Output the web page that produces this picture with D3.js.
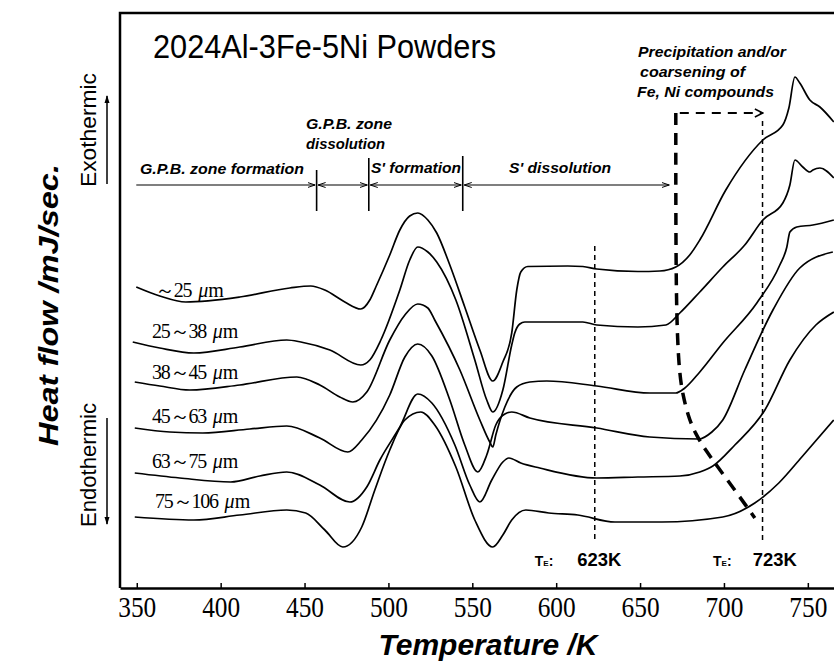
<!DOCTYPE html>
<html>
<head>
  <title>DSC curves 2024Al-3Fe-5Ni</title>
  <script src="https://d3js.org/d3.v7.min.js"></script>
  <style>
    body { margin: 0; background: #fff; }
  </style>
</head>
<body>
  <svg id="chart"></svg>

  <script>
    // particle size classes (top to bottom)
    const sizeLabels = ['～25', '25～38', '38～45', '45～63', '63～75', '75～106'];

    // DSC traces: [temperature K, heat flow (arbitrary, offset per trace)]
    const curve1 = [[349.7,30.1],[363.7,29.2],[379.2,28.6],[411.4,29.1],[441.2,30.0],[453.7,30.2],[462.1,29.8],[474.0,28.6],[483.5,27.9],[488.9,28.8],[492.5,30.1],[500.8,33.3],[506.8,35.8],[512.7,37.2],[517.5,37.5],[523.5,36.8],[528.8,35.5],[536.6,32.3],[545.5,28.1],[554.5,23.8],[562.2,20.7],[568.2,22.6],[573.5,25.5],[576.5,29.8],[578.9,31.6],[583.1,32.15],[606.9,32.2],[615.9,32.15],[624.2,31.9],[648.7,31.65],[661.8,31.7],[671.3,32.1],[679.6,33.3],[685.6,34.8],[701.1,39.8],[723.2,44.8],[735.1,46.3],[738.7,48.0],[742.3,51.1],[745.2,50.5],[751.2,48.8],[757.2,48.1],[765.5,46.6]];
    const curve2 = [[347.6,24.6],[363.7,24.0],[384.0,23.5],[411.4,24.1],[439.4,24.8],[447.8,24.6],[465.1,23.8],[483.5,22.3],[488.9,22.8],[495.5,24.8],[506.8,29.8],[512.7,32.8],[517.5,34.1],[523.5,33.6],[528.8,32.6],[540.2,28.8],[551.5,22.8],[558.6,18.8],[562.2,17.6],[568.2,19.8],[573.5,24.3],[575.3,25.5],[578.3,26.4],[581.3,26.6],[596.2,26.6],[615.9,26.6],[624.2,26.3],[648.7,26.1],[665.4,26.3],[673.7,27.5],[685.6,29.6],[699.3,32.1],[712.4,34.3],[723.2,36.8],[735.1,38.5],[739.3,40.3],[742.3,42.8],[747.0,42.1],[751.2,41.6],[753.0,41.8],[757.2,42.0],[765.5,41.0]];
    const curve3 = [[348.8,20.6],[363.7,20.2],[381.6,19.8],[411.4,20.3],[445.4,21.1],[459.1,20.3],[471.0,19.1],[478.8,18.6],[487.1,19.6],[500.8,24.8],[509.8,27.3],[517.5,28.4],[523.5,28.0],[527.6,26.8],[542.6,21.8],[554.5,16.8],[560.4,14.6],[562.2,14.1],[564.0,15.3],[569.4,18.1],[576.5,20.1],[584.3,20.6],[594.4,20.7],[624.2,20.2],[655.8,19.5],[671.3,19.5],[676.7,20.0],[685.6,21.6],[699.3,24.5],[719.6,28.5],[733.3,32.3],[737.5,34.1],[739.3,35.6],[743.4,36.1],[753.0,36.3],[765.5,36.8]];
    const curve4 = [[348.8,16.0],[369.7,15.6],[389.3,15.5],[417.4,15.9],[439.4,16.2],[459.1,15.0],[475.8,13.6],[484.1,14.8],[500.8,19.3],[509.8,23.1],[517.5,24.4],[525.9,23.2],[536.6,18.8],[545.5,14.3],[553.3,11.6],[558.6,13.3],[564.0,16.3],[569.4,17.4],[573.5,17.6],[584.3,17.0],[624.2,16.0],[655.8,15.1],[685.0,14.9],[692.8,15.6],[699.3,16.8],[712.4,21.8],[729.2,27.8],[745.2,32.0],[764.9,33.6]];
    const curve5 = [[348.8,11.5],[375.6,11.0],[406.0,10.6],[423.3,11.2],[439.4,11.6],[459.1,10.3],[477.0,8.6],[487.1,10.1],[494.9,12.8],[506.8,16.1],[517.5,19.4],[525.9,18.5],[539.6,14.3],[548.5,10.3],[554.5,8.6],[561.6,10.8],[568.2,12.6],[571.8,13.0],[578.9,12.5],[590.2,12.0],[624.2,11.0],[648.7,11.1],[673.7,11.2],[685.6,11.6],[693.4,12.2],[706.5,14.3],[724.4,17.8],[739.3,22.8],[754.8,26.3],[765.5,27.6]];
    const curve6 = [[348.8,7.1],[384.0,6.8],[411.4,7.3],[439.4,7.8],[450.7,7.5],[462.1,5.8],[472.8,4.1],[484.1,6.1],[491.9,9.8],[500.8,13.8],[509.8,16.8],[519.3,17.6],[527.6,16.3],[540.2,12.1],[551.5,6.8],[562.2,4.1],[568.2,5.3],[573.5,6.8],[581.9,7.8],[595.6,7.5],[612.9,7.3],[635.0,6.6],[663.0,6.6],[699.3,7.1],[718.4,8.5],[732.7,10.5],[746.4,13.1],[765.5,16.8]];
    const curves = [curve1, curve2, curve3, curve4, curve5, curve6];

    // reaction ranges (K) and their names
    const phaseBounds = [349.7, 457.2, 488.3, 544.3, 668.3];
    const phaseNames = ['G.P.B. zone formation', 'G.P.B. zone dissolution', "S' formation", "S' dissolution"];

    // onset of Fe, Ni compound precipitation (guide line)
    const onsetLine = [[671.3,47.5],[671.3,28.8],[673.1,21.8],[675.5,19.3],[678.5,17.3],[682.6,15.5],[689.8,13.6],[696.3,12.1],[706.5,9.8],[718.4,7.0]];

    // extrusion temperatures
    const extrusionTemps = [623, 723];
    const xTicks = [350, 400, 450, 500, 550, 600, 650, 700, 750];

    const width = 834, height = 664;
    const sans = 'Liberation Sans, Arial, sans-serif';
    const serif = 'Liberation Serif, Times New Roman, serif';

    const x = d3.scaleLinear().domain([340, 765.6]).range([120, 834]);
    const y = d3.scaleLinear().domain([0, 57.5]).range([588, 13]);

    const svg = d3.select('#chart').attr('width', width).attr('height', height);

    const defs = svg.append('defs');
    defs.append('marker')
      .attr('id', 'chev')
      .attr('viewBox', '0 -4 8 8')
      .attr('refX', 7.5).attr('refY', 0)
      .attr('markerUnits', 'userSpaceOnUse')
      .attr('markerWidth', 8).attr('markerHeight', 8)
      .attr('orient', 'auto-start-reverse')
      .append('path')
      .attr('d', 'M0,-2.5L7.5,0L0,2.5')
      .attr('fill', 'none').attr('stroke', '#000').attr('stroke-width', 1);
    defs.append('marker')
      .attr('id', 'chevBig')
      .attr('viewBox', '0 -5 10 10')
      .attr('refX', 9).attr('refY', 0)
      .attr('markerUnits', 'userSpaceOnUse')
      .attr('markerWidth', 10).attr('markerHeight', 10)
      .attr('orient', 'auto')
      .append('path')
      .attr('d', 'M1,-4L9,0L1,4')
      .attr('fill', 'none').attr('stroke', '#000').attr('stroke-width', 1.6);
    defs.append('marker')
      .attr('id', 'tri')
      .attr('viewBox', '0 -4 8 8')
      .attr('refX', 7).attr('refY', 0)
      .attr('markerUnits', 'userSpaceOnUse')
      .attr('markerWidth', 8).attr('markerHeight', 8)
      .attr('orient', 'auto')
      .append('path')
      .attr('d', 'M0,-2.5L8,0L0,2.5Z')
      .attr('fill', '#000');

    // axis + frame
    const xAxis = d3.axisBottom(x).tickValues(xTicks).tickSize(-5).tickSizeOuter(0).tickPadding(10);
    const gx = svg.append('g').attr('transform', 'translate(0,588)').call(xAxis);
    gx.select('.domain').attr('stroke-width', 2.5);
    gx.selectAll('.tick line').attr('stroke-width', 1.5);
    gx.selectAll('.tick text')
      .attr('font-family', serif).attr('font-size', 30).attr('fill', '#000')
      .attr('textLength', 38).attr('lengthAdjust', 'spacingAndGlyphs')
      .attr('dy', null).attr('y', 29);

    svg.append('path')
      .attr('d', `M${x(340)},${y(0)}V${y(57.5)}H${x(765.6)}`)
      .attr('fill', 'none').attr('stroke', '#000').attr('stroke-width', 2.5);

    // traces
    const line = d3.line().x(d => x(d[0])).y(d => y(d[1])).curve(d3.curveMonotoneX);
    svg.selectAll('.trace')
      .data(curves)
      .enter()
      .append('path')
      .attr('class', 'trace')
      .attr('d', line)
      .attr('fill', 'none').attr('stroke', '#000').attr('stroke-width', 1.7);

    // size labels
    const labelDy = [10, -4, -3, -5, -5, -9];
    const lab = svg.selectAll('.size-label')
      .data(sizeLabels)
      .enter()
      .append('text')
      .attr('class', 'size-label')
      .attr('x', (d, i) => i === 0 ? 155 : (i === 5 ? 155 : 152))
      .attr('y', (d, i) => y(curves[i][0][1]) + labelDy[i])
      .attr('font-family', serif).attr('font-size', 20);
    lab.append('tspan').attr('letter-spacing', -1.2).text(d => d + ' ');
    lab.append('tspan').attr('dx', 3).attr('font-style', 'italic').text('μ');
    lab.append('tspan').text('m');

    // reaction range arrows
    const arrowY = 185;
    const phaseG = svg.append('g');
    for (let i = 0; i < phaseNames.length; i++) {
      phaseG.append('line')
        .attr('x1', x(phaseBounds[i]) + (i === 0 ? 0 : 1.5)).attr('x2', x(phaseBounds[i + 1]) - 1.5)
        .attr('y1', arrowY).attr('y2', arrowY)
        .attr('stroke', '#000').attr('stroke-width', 1.2)
        .attr('marker-end', 'url(#chev)')
        .attr('marker-start', i === 0 ? null : 'url(#chev)');
    }
    const barTop = [170, 158, 156];
    phaseBounds.slice(1, 4).forEach((b, i) => {
      phaseG.append('line')
        .attr('x1', x(b)).attr('x2', x(b))
        .attr('y1', barTop[i]).attr('y2', 211)
        .attr('stroke', '#000').attr('stroke-width', 1.6);
    });

    const note = (txt, px, py, len) => svg.append('text')
      .attr('x', px).attr('y', py)
      .attr('font-family', sans).attr('font-weight', 'bold').attr('font-style', 'italic')
      .attr('font-size', 15)
      .attr('textLength', len).attr('lengthAdjust', 'spacingAndGlyphs')
      .text(txt);

    note(phaseNames[0], 140, 174, 164);
    note('G.P.B. zone', 306, 129, 86);
    note('dissolution', 306, 149, 79);
    note(phaseNames[2], 371, 173, 90);
    note(phaseNames[3], 509, 173, 102);
    note('Precipitation and/or', 638, 57, 148);
    note('coarsening of', 640, 77, 105);
    note('Fe, Ni compounds', 637, 97, 137);

    // precipitation onset guide
    svg.append('path')
      .datum(onsetLine)
      .attr('d', d3.line().x(d => x(d[0])).y(d => y(d[1])).curve(d3.curveBasis))
      .attr('fill', 'none').attr('stroke', '#000').attr('stroke-width', 3.5)
      .attr('stroke-dasharray', '12,8');
    svg.append('line')
      .attr('x1', x(onsetLine[0][0]) + 4).attr('x2', x(723.2))
      .attr('y1', y(onsetLine[0][1])).attr('y2', y(onsetLine[0][1]))
      .attr('stroke', '#000').attr('stroke-width', 1.8)
      .attr('stroke-dasharray', '9,7')
      .attr('marker-end', 'url(#chevBig)');

    // extrusion temperature lines
    const teTop = [246, 121];
    const teDx = [[-60, -17.5], [-49.5, -9.7]];
    extrusionTemps.forEach((t, i) => {
      svg.append('line')
        .attr('x1', x(t)).attr('x2', x(t))
        .attr('y1', teTop[i]).attr('y2', 540)
        .attr('stroke', '#000').attr('stroke-width', 1.5)
        .attr('stroke-dasharray', '5,4');
      const te = svg.append('text')
        .attr('x', x(t) + teDx[i][0]).attr('y', 566)
        .attr('font-family', sans).attr('font-weight', 'bold').attr('font-size', 14);
      te.append('tspan').text('T');
      te.append('tspan').attr('font-size', 8).text('E');
      te.append('tspan').text(':');
      svg.append('text')
        .attr('x', x(t) + teDx[i][1]).attr('y', 566)
        .attr('font-family', sans).attr('font-weight', 'bold').attr('font-size', 18)
        .attr('textLength', 44).attr('lengthAdjust', 'spacingAndGlyphs')
        .text(t + 'K');
    });

    // title
    svg.append('text')
      .attr('x', 153).attr('y', 58)
      .attr('font-family', sans).attr('font-size', 33)
      .attr('textLength', 343).attr('lengthAdjust', 'spacingAndGlyphs')
      .text('2024Al-3Fe-5Ni Powders');

    // axis titles
    svg.append('text')
      .attr('x', 488).attr('y', 655)
      .attr('text-anchor', 'middle')
      .attr('font-family', sans).attr('font-weight', 'bold').attr('font-style', 'italic')
      .attr('font-size', 30)
      .text('Temperature /K');

    svg.append('text')
      .attr('transform', 'translate(58,305) rotate(-90)')
      .attr('text-anchor', 'middle')
      .attr('font-family', sans).attr('font-weight', 'bold').attr('font-style', 'italic')
      .attr('font-size', 28)
      .attr('textLength', 282).attr('lengthAdjust', 'spacingAndGlyphs')
      .text('Heat flow /mJ/sec.');

    svg.append('text')
      .attr('transform', 'translate(96,130) rotate(-90)')
      .attr('text-anchor', 'middle')
      .attr('font-family', sans).attr('font-size', 22)
      .attr('textLength', 114).attr('lengthAdjust', 'spacingAndGlyphs')
      .text('Exothermic');
    svg.append('text')
      .attr('transform', 'translate(96,465) rotate(-90)')
      .attr('text-anchor', 'middle')
      .attr('font-family', sans).attr('font-size', 22)
      .attr('textLength', 124).attr('lengthAdjust', 'spacingAndGlyphs')
      .text('Endothermic');

    svg.append('line')
      .attr('x1', 107).attr('x2', 107).attr('y1', 184).attr('y2', 96)
      .attr('stroke', '#000').attr('stroke-width', 1.5).attr('marker-end', 'url(#tri)');
    svg.append('line')
      .attr('x1', 107).attr('x2', 107).attr('y1', 418).attr('y2', 524)
      .attr('stroke', '#000').attr('stroke-width', 1.5).attr('marker-end', 'url(#tri)');
  </script>
</body>
</html>
